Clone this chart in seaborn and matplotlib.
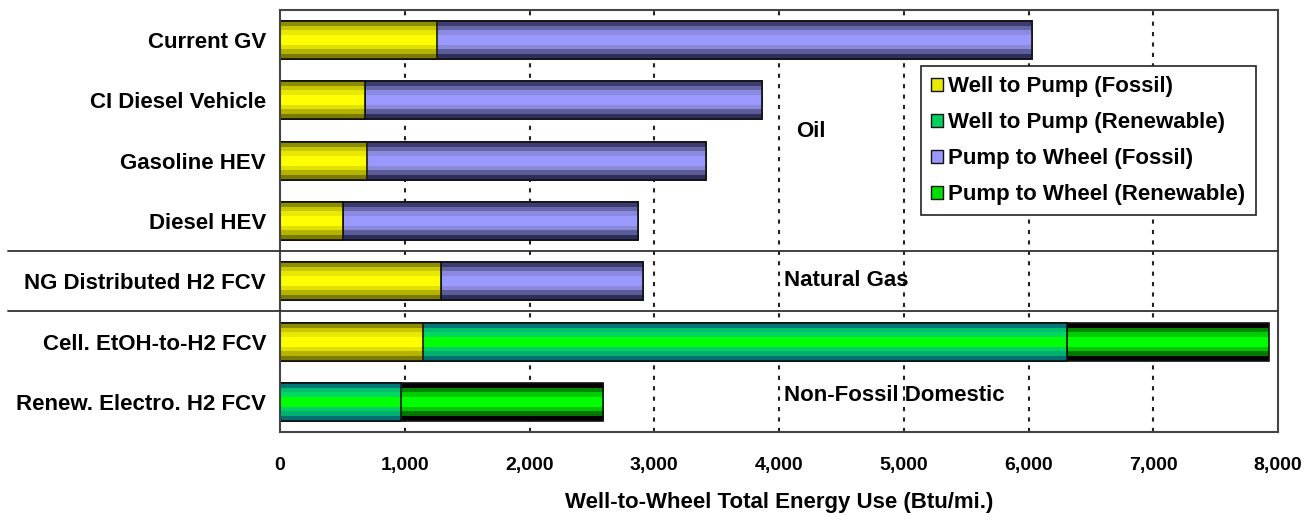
import numpy as np
import pandas as pd
import matplotlib
matplotlib.use("Agg")
import matplotlib.pyplot as plt
from matplotlib.patches import Patch
from matplotlib.colors import LinearSegmentedColormap
import matplotlib.transforms as mtransforms
import seaborn as sns

categories = ["Current GV", "CI Diesel Vehicle", "Gasoline HEV", "Diesel HEV",
              "NG Distributed H2 FCV", "Cell. EtOH-to-H2 FCV", "Renew. Electro. H2 FCV"]
wtp_fossil = [1260, 680, 700, 505, 1290, 1150, 0]
wtp_renew = [0, 0, 0, 0, 0, 5155, 970]
ptw_fossil = [4766, 3183, 2713, 2364, 1619, 0, 0]
ptw_renew = [0, 0, 0, 0, 0, 1620, 1620]
series_names = ["Well to Pump (Fossil)", "Well to Pump (Renewable)",
                "Pump to Wheel (Fossil)", "Pump to Wheel (Renewable)"]
group_labels = ["Oil", "Natural Gas", "Non-Fossil Domestic"]
xticks = [0, 1000, 2000, 3000, 4000, 5000, 6000, 7000, 8000]

# band colours from top edge to bottom edge of the "cylinder"
bands = {
    "Well to Pump (Fossil)": ["#8C8C00", "#C8C800", "#E8E800", "#FFFF00", "#FFFF00", "#E0E000", "#B4B400", "#7A7A00"],
    "Well to Pump (Renewable)": ["#007878", "#00C070", "#00D860", "#00FF00", "#00FF00", "#00D060", "#00B070", "#007070"],
    "Pump to Wheel (Fossil)": ["#3C3C70", "#6666A8", "#8A8AE0", "#9999FF", "#9999FF", "#8A8AD8", "#5C5C98", "#2E2E5C"],
    "Pump to Wheel (Renewable)": ["#000000", "#008800", "#00CC00", "#00FF00", "#00FF00", "#00C800", "#007800", "#000000"],
}
legend_colors = ["#E8E800", "#00D060", "#9999FF", "#00E000"]

df = pd.DataFrame({"cat": categories, "wtpf": wtp_fossil, "wtpr": wtp_renew,
                   "ptwf": ptw_fossil, "ptwr": ptw_renew})
df["c1"] = df["wtpf"]
df["c2"] = df["c1"] + df["wtpr"]
df["c3"] = df["c2"] + df["ptwf"]
df["c4"] = df["c3"] + df["ptwr"]

sns.set_theme(style="white")
plt.rcParams["font.family"] = ["Liberation Sans", "DejaVu Sans"]
plt.rcParams["font.weight"] = "bold"
plt.rcParams["text.color"] = "black"
plt.rcParams["xtick.color"] = "black"
plt.rcParams["ytick.color"] = "black"
plt.rcParams["axes.labelcolor"] = "black"

FS = 16

fig = plt.figure(figsize=(13.12, 5.21), dpi=100)
ax = fig.add_axes([280 / 1312, (521 - 432) / 521, 998 / 1312, 422 / 521])

layers = [("c4", series_names[3]), ("c3", series_names[2]),
          ("c2", series_names[1]), ("c1", series_names[0])]
z = 2.0
for col, name in layers:
    n0 = len(ax.patches)
    sns.barplot(data=df, x=col, y="cat", orient="h", color=legend_colors[0],
                saturation=1, width=0.63, ax=ax, edgecolor="#111111", linewidth=1.2)
    cmap = LinearSegmentedColormap.from_list(name, bands[name], N=len(bands[name]))
    grad = np.linspace(0, 1, len(bands[name])).reshape(-1, 1)
    for p in ax.patches[n0:]:
        if p.get_width() <= 0:
            p.set_visible(False)
            continue
        x0, y0 = p.get_x(), p.get_y()
        w, h = p.get_width(), p.get_height()
        p.set_facecolor("none")
        p.set_zorder(z + 0.05)
        im = ax.imshow(grad, cmap=cmap, aspect="auto", interpolation="nearest",
                       extent=(x0, x0 + w, y0 + h, y0), zorder=z)
        im.set_clip_path(p)
    z += 0.1

ax.set_xlim(0, 8000)
ax.set_ylim(6.5, -0.5)
ax.set_xticks(xticks)
ax.set_xticklabels([f"{v:,}" for v in xticks], fontsize=14, fontweight="bold")
ax.tick_params(axis="x", length=0, pad=18)
ax.tick_params(axis="y", length=0, pad=10, labelsize=FS)
for t in ax.get_yticklabels():
    t.set_fontweight("bold")
ax.set_ylabel("")
ax.set_xlabel("Well-to-Wheel Total Energy Use (Btu/mi.)", fontsize=FS,
              fontweight="bold", labelpad=13)

for xv in xticks[1:-1]:
    ax.axvline(xv, color="#222222", lw=1.5, ls=(0, (2, 3)), zorder=1)

for sp in ax.spines.values():
    sp.set_color("#444444")
    sp.set_linewidth(1.5)

trans = mtransforms.blended_transform_factory(ax.transAxes, ax.transData)
for yv in [3.5, 4.5]:
    ax.plot([-0.2725, 1], [yv, yv], color="#333333", lw=1.3, transform=trans,
            clip_on=False, zorder=5)

ax.text(4135, 1.52, group_labels[0], fontsize=FS, fontweight="bold", va="center")
ax.text(4040, 3.98, group_labels[1], fontsize=FS, fontweight="bold", va="center")
ax.text(4040, 5.9, group_labels[2], fontsize=FS, fontweight="bold", va="center")

handles = [Patch(facecolor=c, edgecolor="#111111", linewidth=1) for c in legend_colors]
leg = ax.legend(handles, series_names, loc="upper left", bbox_to_anchor=(0.642, 0.867),
                fancybox=False, framealpha=1, edgecolor="#222222", fontsize=FS,
                handlelength=0.55, handleheight=0.55, handletextpad=0.25,
                borderpad=0.45, labelspacing=0.68, borderaxespad=0)
leg.get_frame().set_linewidth(1.2)
leg.set_zorder(10)
for t in leg.get_texts():
    t.set_fontweight("bold")

fig.savefig("out.png", dpi=100)
